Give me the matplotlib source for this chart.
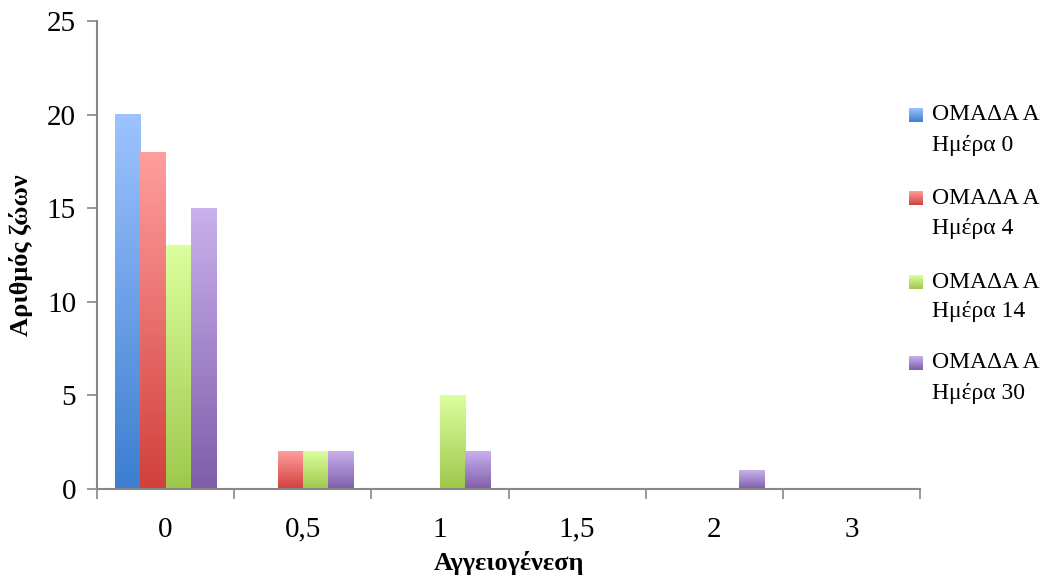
import matplotlib
matplotlib.use("Agg")
import matplotlib.pyplot as plt
import numpy as np
from matplotlib.colors import LinearSegmentedColormap

categories = ["0", "0,5", "1", "1,5", "2", "3"]
series_names = ["ΟΜΑΔΑ Α\nΗμέρα 0", "ΟΜΑΔΑ Α\nΗμέρα 4", "ΟΜΑΔΑ Α\nΗμέρα 14", "ΟΜΑΔΑ Α\nΗμέρα 30"]
day0 = [20, 0, 0, 0, 0, 0]
day4 = [18, 2, 0, 0, 0, 0]
day14 = [13, 2, 5, 0, 0, 0]
day30 = [15, 2, 2, 0, 1, 0]
series_values = [day0, day4, day14, day30]
top_colors = ["#9EC3FF", "#FF9E9E", "#DCFF9E", "#C9B1EC"]
bottom_colors = ["#3C7ED0", "#D2403C", "#9EC84C", "#7E5DAA"]

plt.rcParams['font.family'] = ['Liberation Serif', 'DejaVu Serif']

W, H = 1042, 579
fig = plt.figure(figsize=(W / 100, H / 100), dpi=100)
ax = fig.add_axes([97 / W, 1 - 489 / H, (920 - 97) / W, (489 - 21) / H])

x = np.arange(len(categories))
bw = 0.184
grad = np.linspace(0, 1, 256).reshape(-1, 1)
cmaps = [LinearSegmentedColormap.from_list(f"g{i}", [bottom_colors[i], top_colors[i]])
         for i in range(4)]
for i, vals in enumerate(series_values):
    offs = (i - 1.5) * bw
    bars = ax.bar(x + offs, vals, width=bw, color='none', edgecolor='none', zorder=2)
    for rect in bars:
        h = rect.get_height()
        if h <= 0:
            continue
        x0 = rect.get_x()
        w = rect.get_width()
        ax.imshow(grad, extent=[x0, x0 + w, 0, h], origin='lower', cmap=cmaps[i],
                  aspect='auto', zorder=2, interpolation='bilinear')

ax.set_xlim(-0.5, len(categories) - 0.5)
ax.set_ylim(0, 25)
ax.set_yticks([0, 5, 10, 15, 20, 25])
ax.set_xticks(x)
ax.set_xticklabels(categories)
ax.set_xticks(np.arange(-0.5, len(categories)), minor=True)
ax.tick_params(axis='x', which='major', length=0, pad=20, labelsize=21)
ax.tick_params(axis='x', which='minor', length=7, color='#888888', width=1.2)
ax.tick_params(axis='y', length=7, color='#888888', width=1.2, labelsize=21, pad=8)

for s in ['top', 'right']:
    ax.spines[s].set_visible(False)
for s in ['left', 'bottom']:
    ax.spines[s].set_color('#888888')
    ax.spines[s].set_linewidth(1.5)

ax.set_ylabel("Αριθμός ζώων", fontsize=19, fontweight='bold', labelpad=10)
ax.set_xlabel("Αγγειογένεση", fontsize=19, fontweight='bold', labelpad=6)

# legend (manual, first line aligned with the swatch)
entry_y = [115, 198, 282, 363]
for i, name in enumerate(series_names):
    yc = entry_y[i]
    sw = fig.add_axes([909 / W, 1 - (yc + 7) / H, 14 / W, 14 / H])
    sw.imshow(grad, origin='lower', cmap=cmaps[i], aspect='auto')
    sw.axis('off')
    l1, l2 = name.split("\n")
    fig.text(932 / W, 1 - yc / H, l1, fontsize=17, va='center', ha='left')
    fig.text(932 / W, 1 - (yc + 30) / H, l2, fontsize=17, va='center', ha='left')

fig.savefig("out.png", dpi=100)
